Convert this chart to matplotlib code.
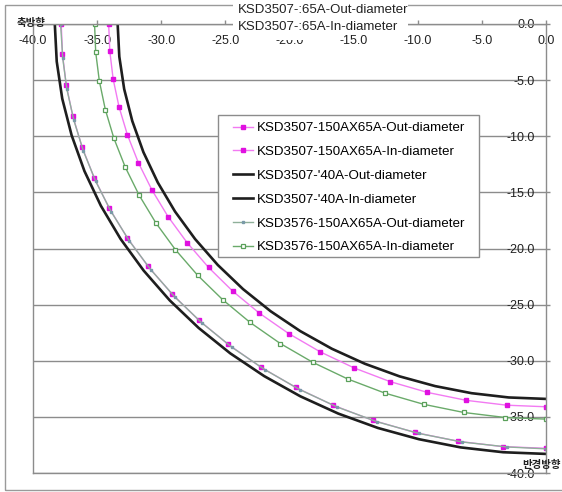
import matplotlib
matplotlib.use("Agg")
import matplotlib.pyplot as plt
from matplotlib.patches import Rectangle

plt.rcParams['font.family'] = ['Liberation Sans', 'Noto Sans CJK KR', 'DejaVu Sans']

# ---------------- data ----------------
mag_out_x = [-37.80, -37.70, -37.41, -36.90, -36.18, -35.24, -34.07, -32.66, -31.03, -29.17,
             -27.08, -24.77, -22.24, -19.51, -16.59, -13.50, -10.25, -6.88, -3.39, 0.0]
mag_out_y = [0.0, -2.70, -5.44, -8.19, -10.94, -13.68, -16.38, -19.03, -21.59, -24.04,
             -26.38, -28.55, -30.57, -32.38, -33.97, -35.31, -36.38, -37.17, -37.65, -37.80]

mag_in_x = [-34.10, -34.01, -33.75, -33.29, -32.64, -31.79, -30.73, -29.47, -27.99, -26.31,
            -24.43, -22.35, -20.06, -17.60, -14.96, -12.18, -9.25, -6.20, -3.06, 0.0]
mag_in_y = [0.0, -2.44, -4.91, -7.39, -9.87, -12.34, -14.78, -17.16, -19.47, -21.69,
            -23.80, -25.76, -27.58, -29.21, -30.64, -31.85, -32.82, -33.53, -33.96, -34.10]

blk_out_x = [-38.30, -38.15, -37.72, -36.99, -35.99, -34.71, -33.17, -31.37, -29.34, -27.08,
             -24.62, -21.97, -19.15, -16.19, -13.10, -9.91, -6.65, -3.34, 0.0]
blk_out_y = [0.0, -3.34, -6.65, -9.91, -13.10, -16.19, -19.15, -21.97, -24.62, -27.08,
             -29.34, -31.37, -33.17, -34.71, -35.99, -36.99, -37.72, -38.15, -38.30]

blk_in_x = [-33.40, -33.27, -32.89, -32.26, -31.39, -30.27, -28.93, -27.36, -25.59, -23.62,
            -21.47, -19.16, -16.70, -14.12, -11.42, -8.64, -5.80, -2.91, 0.0]
blk_in_y = [0.0, -2.91, -5.80, -8.64, -11.42, -14.12, -16.70, -19.16, -21.47, -23.62,
            -25.59, -27.36, -28.93, -30.27, -31.39, -32.26, -32.89, -33.27, -33.40]

grn_out_x = [-37.85, -37.68, -37.36, -36.82, -36.08, -35.11, -33.91, -32.48, -30.82, -28.94,
             -26.82, -24.50, -21.94, -19.20, -16.26, -13.16, -9.90, -6.52, -3.03, 0.0]
grn_out_y = [0.0, -3.06, -5.80, -8.55, -11.29, -14.02, -16.71, -19.34, -21.88, -24.32,
             -26.64, -28.79, -30.78, -32.57, -34.13, -35.44, -36.48, -37.24, -37.68, -37.85]

grn_in_x = [-35.20, -35.11, -34.83, -34.36, -33.69, -32.81, -31.72, -30.42, -28.90, -27.16,
            -25.21, -23.07, -20.71, -18.17, -15.45, -12.57, -9.54, -6.40, -3.16, 0.0]
grn_in_y = [0.0, -2.52, -5.06, -7.63, -10.19, -12.74, -15.26, -17.72, -20.10, -22.39,
            -24.56, -26.59, -28.47, -30.15, -31.63, -32.88, -33.88, -34.61, -35.06, -35.20]

series_labels = ["KSD3507-150AX65A-Out-diameter", "KSD3507-150AX65A-In-diameter",
                 "KSD3507-'40A-Out-diameter", "KSD3507-'40A-In-diameter",
                 "KSD3576-150AX65A-Out-diameter", "KSD3576-150AX65A-In-diameter"]
top_labels = ["KSD3507-:65A-Out-diameter", "KSD3507-:65A-In-diameter"]

x_ticks = [-40, -35, -30, -25, -20, -15, -10, -5, 0]
x_tick_labels = ["-40.0", "-35.0", "-30.0", "-25.0", "-20.0", "-15.0", "-10.0", "-5.0", "0.0"]
y_ticks = [-40, -35, -30, -25, -20, -15, -10, -5, 0]
y_tick_labels = ["-40.0", "-35.0", "-30.0", "-25.0", "-20.0", "-15.0", "-10.0", "-5.0", "0.0"]
x_title = "축방향"
y_title = "반경방향"

# ---------------- figure ----------------
W, H = 562, 492
fig = plt.figure(figsize=(W / 100, H / 100), dpi=100)
fig.patch.set_facecolor('white')

L, R, T, B = 33, 546, 24, 473
ax = fig.add_axes([L / W, 1 - B / H, (R - L) / W, (B - T) / H])
ax.set_xlim(-40, 0)
ax.set_ylim(-40, 0)

grid_c = '#8c8c8c'
for s in ax.spines.values():
    s.set_color(grid_c)
    s.set_linewidth(1.0)

ax.xaxis.tick_top()
ax.set_xticks(x_ticks)
ax.set_xticklabels(x_tick_labels)
ax.tick_params(axis='x', direction='out', length=3, width=1, color=grid_c,
               pad=-11, labelsize=9, labelcolor='#222222')
for lbl in ax.xaxis.get_majorticklabels():
    lbl.set_va('top')

ax.yaxis.tick_right()
ax.set_yticks(y_ticks)
ax.set_yticklabels(y_tick_labels)
ax.tick_params(axis='y', direction='out', length=3, width=1, color=grid_c,
               pad=-11, labelsize=9, labelcolor='#222222')
for lbl in ax.yaxis.get_majorticklabels():
    lbl.set_ha('right')

ax.yaxis.grid(True, color=grid_c, linewidth=1.0)
ax.xaxis.grid(False)
ax.set_axisbelow(True)

h1, = ax.plot(mag_out_x, mag_out_y, color='#f27af2', lw=1.0, marker='s', ms=3.4,
              mfc='#e010e0', mec='#e010e0', label=series_labels[0])
h2, = ax.plot(mag_in_x, mag_in_y, color='#f27af2', lw=1.0, marker='s', ms=3.4,
              mfc='#e010e0', mec='#e010e0', label=series_labels[1])
h3, = ax.plot(blk_out_x, blk_out_y, color='#1e1e1e', lw=1.9, label=series_labels[2])
h4, = ax.plot(blk_in_x, blk_in_y, color='#1e1e1e', lw=1.9, label=series_labels[3])
h5, = ax.plot(grn_out_x, grn_out_y, color='#8fb09a', lw=1.0, marker='s', ms=1.9,
              mfc='#7a9aa8', mec='#7a9aa8', label=series_labels[4])
h6, = ax.plot(grn_in_x, grn_in_y, color='#6aaa6a', lw=1.0, marker='s', ms=3.2,
              mfc='white', mec='#5aa05a', mew=0.9, label=series_labels[5])

# legend frame + legend
fig.add_artist(Rectangle((218 / W, 1 - 257 / H), (479 - 218) / W, (257 - 115) / H,
                         transform=fig.transFigure, facecolor='white',
                         edgecolor='#8c8c8c', lw=1.0, zorder=3))
fig.legend(handles=[h1, h2, h3, h4, h5, h6], loc='upper left',
           bbox_to_anchor=(233 / W, 1 - 122 / H), bbox_transform=fig.transFigure,
           frameon=False, borderpad=0, borderaxespad=0, fontsize=9.6,
           handlelength=1.5, handletextpad=0.3, labelspacing=0.86, numpoints=1)

# top partial legend box (hides the axis line and the top of the -20.0 label)
fig.add_artist(Rectangle((233 / W, 1 - 34 / H), (408 - 233) / W, 34 / H,
                         transform=fig.transFigure, facecolor='white',
                         edgecolor='none', zorder=3))
fig.add_artist(Rectangle((272 / W, 1 - 40 / H), (306 - 272) / W, 7 / H,
                         transform=fig.transFigure, facecolor='white',
                         edgecolor='none', zorder=3))
fig.text(238 / W, 1 - 10 / H, top_labels[0], ha='left', va='center', fontsize=9.5,
         color='#222222', zorder=4)
fig.text(238 / W, 1 - 27 / H, top_labels[1], ha='left', va='center', fontsize=9.5,
         color='#222222', zorder=4)

# axis titles
fig.text(31 / W, 1 - 23 / H, x_title, ha='center', va='center', fontsize=7.5,
         fontweight='bold', family=['Noto Sans CJK KR'], color='#222222', zorder=4)
fig.text(522 / W, 1 - 465 / H, y_title, ha='left', va='center', fontsize=7.5,
         fontweight='bold', family=['Noto Sans CJK KR'], color='#222222', zorder=4)

# outer chart border
fig.add_artist(Rectangle((5 / W, 1 - 490 / H), 600 / W, (490 - 5) / H,
                         transform=fig.transFigure, facecolor='none',
                         edgecolor='#9a9a9a', lw=1.0, zorder=2))

fig.savefig('out.png', dpi=100)
